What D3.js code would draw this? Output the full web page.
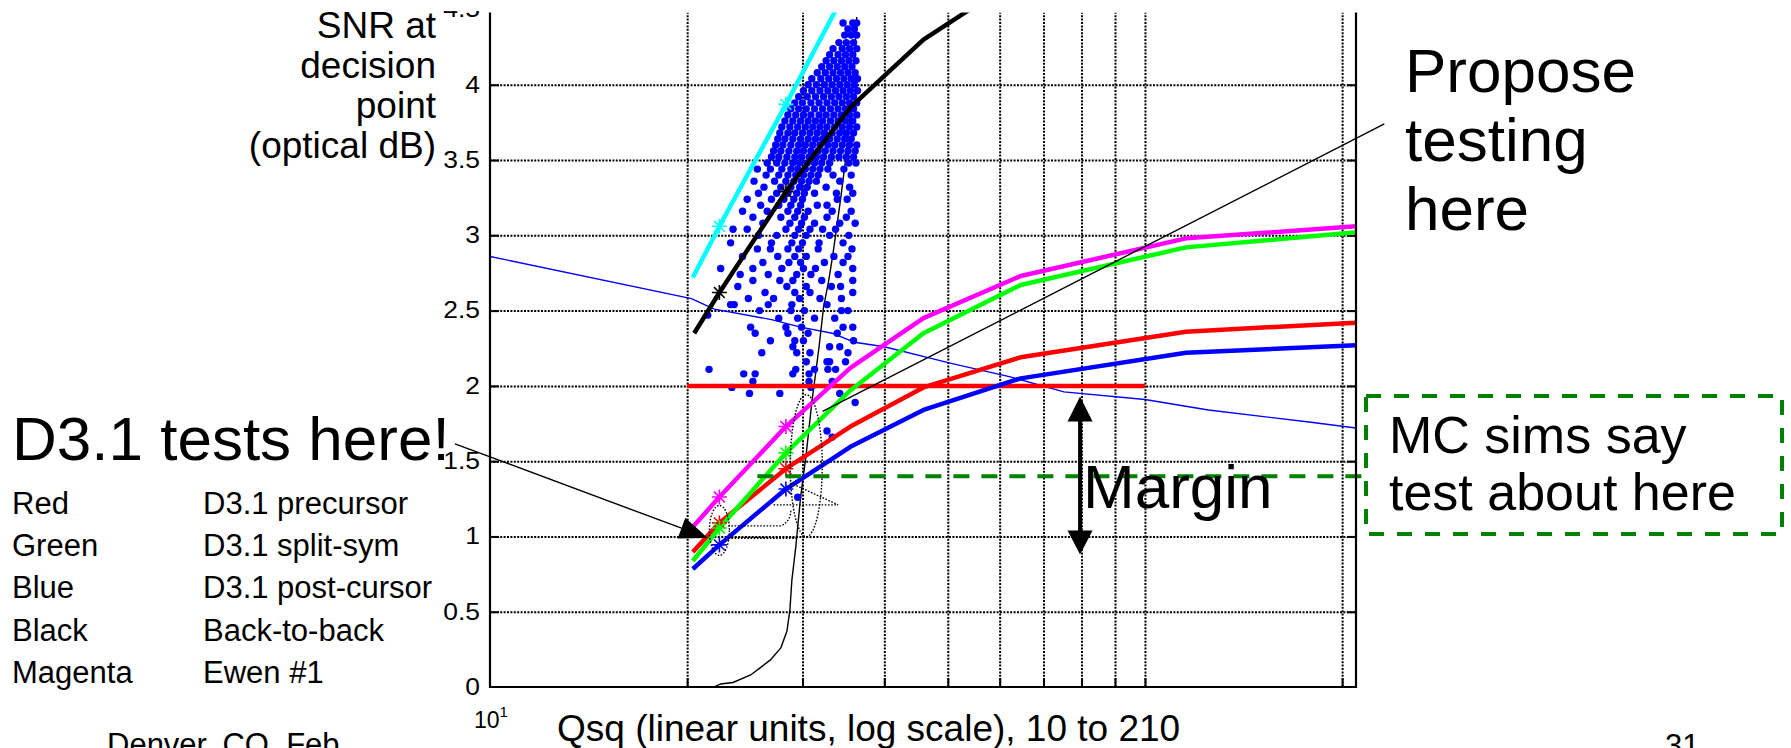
<!DOCTYPE html>
<html><head><meta charset="utf-8">
<script src="https://cdn.jsdelivr.net/npm/d3@7"></script>
<style>
html,body{margin:0;padding:0;background:#fff;}
svg{display:block;}
text{font-family:"Liberation Sans",Arial,sans-serif;fill:#000;}
</style></head><body>
<svg id="chart" width="1791" height="748"></svg>
<script>
// ---------------- data ----------------
const qGridTicks = [20,30,40,50,60,70,80,90,100,200];
const snrTicks = [0,0.5,1,1.5,2,2.5,3,3.5,4,4.5];
const snrTickLabels = ["0","0.5","1","1.5","2","2.5","3","3.5","4","4.5"];

const curveQ = [20.4,22.4,28.3,35.5,45.9,64.6,115.5,210];
const redSNR     = [0.897,1.09,1.45,1.73,1.99,2.19,2.36,2.42];
const greenSNR   = [0.837,1.056,1.555,1.97,2.35,2.67,2.92,3.02];
const blueSNR    = [0.784,0.944,1.315,1.595,1.84,2.05,2.22,2.27];
const magentaSNR = [1.063,1.262,1.73,2.12,2.45,2.73,2.98,3.06];

const cyanQ = [20.4,22.4,28.3,35.5];
const cyanSNR = [2.72,3.06,3.87,4.68];
const blackQ = [20.5,22.4,28.3,35.5,45.9,64.6];
const blackSNR = [2.35,2.62,3.29,3.85,4.30,4.72];
const starIdx = [1,2];

const thinBlueQ = [10,20.3,22,26.9,29.8,33.3,36,40,50.6,62.3,75.2,100,125,178,210];
const thinBlueSNR = [2.86,2.58,2.51,2.44,2.39,2.35,2.29,2.26,2.15,2.06,1.96,1.91,1.84,1.76,1.72];

const cdfQ = [20.0,22.0,22.5,23.5,25.0,25.9,26.8,27.8,28.4,28.7,28.9,29.3,29.8,30.4,31.0,31.8,32.3,32.9,33.4,34.3,34.9,35.3,35.9,36.3];
const cdfSNR = [0,0,0.02,0.03,0.08,0.13,0.18,0.26,0.37,0.51,0.71,0.93,1.26,1.55,1.89,2.26,2.52,2.70,2.88,3.24,3.50,3.70,4.05,4.45];

const limitLine = {q:[20,100], snr:2.0};
const mcLevel = {q0:25.6, snr:1.40};

// scatter cloud, each row: [SNR, Q values...]
const cloudRows = [
[4.41,34.6,35.8,36.3],[4.37,35.2,36.0],[4.33,34.8,35.6,36.3],[4.28,34.1,35.0,35.9],
[4.24,33.4,34.5,35.4,36.3],[4.20,33.0,34.0,34.9,35.8],[4.16,32.6,33.5,34.4,35.3,36.2],
[4.12,32.1,33.0,33.9,34.8,35.7],[4.08,31.6,32.5,33.4,34.3,35.2,36.1],
[4.04,31.0,32.0,32.9,33.8,34.7,35.6,36.4],[4.00,30.6,31.5,32.4,33.3,34.2,35.1,36.0],
[3.96,30.1,31.0,31.9,32.8,33.7,34.6,35.5,36.4],[3.92,29.6,30.5,31.4,32.3,33.2,34.1,35.0,35.9],
[3.88,29.2,30.0,30.9,31.8,32.7,33.6,34.5,35.4,36.3],[3.84,28.8,29.6,30.4,31.3,32.2,33.1,34.0,34.9,35.9],
[3.80,28.5,29.3,30.1,30.9,31.8,32.6,33.5,34.4,35.4,36.3],[3.76,28.2,29.0,29.8,30.6,31.4,32.2,33.1,34.0,34.9,35.8],
[3.72,27.9,28.7,29.5,30.3,31.1,31.9,32.7,33.6,34.5,35.4,36.3],[3.68,27.7,28.5,29.2,30.0,30.8,31.6,32.4,33.3,34.2,35.0,35.9],
[3.64,27.5,28.2,29.0,29.8,30.6,31.4,32.2,33.0,33.9,34.8,35.6],[3.60,27.3,28.0,28.8,29.6,30.3,31.1,31.9,32.8,33.6,34.5,35.4,36.3],
[3.56,27.1,27.8,28.6,29.4,30.1,30.9,31.7,32.5,33.4,34.3,35.2,36.1],[3.52,26.9,27.6,28.4,29.2,29.9,30.7,31.5,32.3,33.2,34.1,35.0,35.9],
[3.48,26.5,27.4,28.2,29.0,29.7,30.5,31.3,32.1,33.0,35.3,36.2],[3.44,25.6,26.8,27.9,28.8,29.5,30.3,31.1,31.9,32.8,34.7],
[3.40,26.4,27.6,28.5,29.3,30.1,30.9,31.7,33.4,35.6],[3.36,25.3,27.2,28.3,29.1,29.9,30.7,31.5,34.2],
[3.32,26.2,27.8,28.8,29.7,30.5,32.6,35.4],[3.28,25.7,27.4,28.5,29.4,30.2,31.3,33.8,35.8],
[3.24,24.7,26.9,28.1,29.1,30.0,33.9,35.1],[3.20,25.9,27.6,28.8,29.8,31.6,32.7],
[3.16,24.3,26.5,28.5,29.5,30.6,33.3,35.6],[3.12,25.2,27.8,29.2,30.2,32.7,35.0],
[3.08,26.1,28.7,29.9,31.3,34.2,36.1],[3.04,23.5,24.7,28.3,29.6,30.8,32.2,33.7],
[3.00,25.7,27.4,29.2,30.4,33.0,35.3],[2.95,23.3,26.9,28.9,30.0,31.8,34.6],
[2.91,25.6,26.8,28.5,29.6,31.7,35.7],[2.86,24.3,27.5,29.2,30.4,33.5,35.2],
[2.82,26.1,28.6,29.8,32.4,34.6],[2.78,22.5,25.2,27.9,30.1,31.4,35.8],
[2.74,24.1,26.6,29.4,30.9,34.0],[2.70,25.2,27.7,29.0,32.1,35.8],
[2.66,23.9,28.4,30.4,33.2,34.3],[2.62,26.3,29.2,30.8,35.8],
[2.58,24.8,27.1,29.7,31.9,34.4],[2.54,23.3,23.6,26.6,28.9,32.7],
[2.50,25.8,28.8,30.2,34.4,35.2],[2.47,21.5],[2.45,27.6,29.5,31.3,33.6],
[2.39,25.0,28.3,29.9,34.6,35.8],[2.35,25.4,28.5,30.6,33.9],
[2.30,26.8,29.2,30.1,35.9],[2.26,29.0,33.0,34.2],[2.22,26.0,29.4,30.8,35.2],
[2.16,30.4,32.7,33.0,34.9],[2.11,21.6,29.3,31.3,32.8,33.7],[2.08,24.4,25.4,29.0,30.7],
[2.03,25.2,30.7,33.3],[1.99,23.4,30.9],[1.95,24.9,27.7,34.2],[1.89,36.1],
[1.70,32.7],[1.66,33.3],[1.26,29.5]
];

// ---------------- chart ----------------
const svg = d3.select("#chart");
const x = d3.scaleLog().domain([10,210]).range([490,1356]);
const y = d3.scaleLinear().domain([0,4.5]).range([687,9.5]);
const X0 = 490, X1 = 1356, Y0 = 687, YT = 12.5;

svg.append("defs").append("clipPath").attr("id","plotclip")
  .append("rect").attr("x",X0).attr("y",YT).attr("width",X1-X0).attr("height",Y0-YT);

// gridlines
const grid = svg.append("g").attr("clip-path","url(#plotclip)");
grid.append("g").attr("transform",`translate(${X0},0)`)
  .call(d3.axisLeft(y).tickValues(snrTicks.slice(1)).tickSize(-(X1-X0)).tickFormat(""))
  .call(g=>g.select(".domain").remove())
  .selectAll("line").attr("stroke","#000").attr("stroke-width",2).attr("stroke-dasharray","2,1.4");
grid.append("g").attr("transform",`translate(0,${Y0})`)
  .call(d3.axisBottom(x).tickValues(qGridTicks).tickSize(-(Y0-YT)).tickFormat(""))
  .call(g=>g.select(".domain").remove())
  .selectAll("line").attr("stroke","#000").attr("stroke-width",2).attr("stroke-dasharray","2,1.4");

// inward solid ticks
const ticks = svg.append("g").attr("clip-path","url(#plotclip)");
ticks.append("g").attr("transform",`translate(${X0},0)`)
  .call(d3.axisLeft(y).tickValues(snrTicks).tickSize(-9).tickFormat(""))
  .call(g=>g.select(".domain").remove()).selectAll("line").attr("stroke","#000").attr("stroke-width",2);
ticks.append("g").attr("transform",`translate(${X1},0)`)
  .call(d3.axisRight(y).tickValues(snrTicks).tickSize(-9).tickFormat(""))
  .call(g=>g.select(".domain").remove()).selectAll("line").attr("stroke","#000").attr("stroke-width",2);
ticks.append("g").attr("transform",`translate(0,${Y0})`)
  .call(d3.axisBottom(x).tickValues(qGridTicks).tickSize(-9).tickFormat(""))
  .call(g=>g.select(".domain").remove()).selectAll("line").attr("stroke","#000").attr("stroke-width",2);

// y tick labels
const yLab = svg.append("g").attr("transform",`translate(${X0},0)`)
  .call(d3.axisLeft(y).tickValues(snrTicks).tickFormat((d,i)=>snrTickLabels[i]).tickSize(0).tickPadding(8.7));
yLab.select(".domain").remove();
yLab.selectAll("text").attr("font-family","'Liberation Serif','Times New Roman',serif")
  .attr("font-size",23).attr("fill","#000").attr("transform","scale(1.15,1)");

// x tick label 10^1
const xl = svg.append("text").attr("x",x(10)-16).attr("y",728)
  .attr("font-family","'Liberation Serif','Times New Roman',serif").attr("font-size",23);
xl.append("tspan").text("10");
xl.append("tspan").attr("font-size",15).attr("dy",-11).text("1");

// white cover at the top (chart cut off)
svg.append("rect").attr("x",440).attr("y",0).attr("width",940).attr("height",11).attr("fill","#fff");

const line = d3.line().x(d=>x(d[0])).y(d=>y(d[1]));
const pairs = (qs,ss)=>qs.map((q,i)=>[q,ss[i]]);
const plot = svg.append("g").attr("clip-path","url(#plotclip)");

// thin lines
plot.append("path").datum(pairs(thinBlueQ,thinBlueSNR)).attr("d",line)
  .attr("fill","none").attr("stroke","#0000ff").attr("stroke-width",1.4);
plot.append("path").datum(pairs(cdfQ,cdfSNR)).attr("d",line)
  .attr("fill","none").attr("stroke","#000").attr("stroke-width",1.4);

// scatter cloud
const cloud = [];
cloudRows.forEach(r=>{ for(let i=1;i<r.length;i++) cloud.push([r[i],r[0]]); });
plot.append("g").selectAll("circle").data(cloud).join("circle")
  .attr("cx",d=>x(d[0])).attr("cy",d=>y(d[1])).attr("r",3.7).attr("fill","#0000ff");

// red limit line
plot.append("path").datum(limitLine.q.map(q=>[q,limitLine.snr])).attr("d",line)
  .attr("fill","none").attr("stroke","#ff0000").attr("stroke-width",4.5);

// thick series
const series = [
  {q:curveQ,s:blueSNR,c:"#0000ff"},
  {q:curveQ,s:redSNR,c:"#ff0000"},
  {q:curveQ,s:greenSNR,c:"#00ff00"},
  {q:curveQ,s:magentaSNR,c:"#ff00ff"},
  {q:blackQ,s:blackSNR,c:"#000000"},
  {q:cyanQ,s:cyanSNR,c:"#00ffff"}
];
series.forEach(sr=>{
  plot.append("path").datum(pairs(sr.q,sr.s)).attr("d",line)
    .attr("fill","none").attr("stroke",sr.c).attr("stroke-width",4.5).attr("stroke-linejoin","round");
});
// star markers
const starPath = (cx,cy,r)=>{
  const d=r*0.72;
  return `M${cx-r},${cy}H${cx+r}M${cx},${cy-r}V${cy+r}M${cx-d},${cy-d}L${cx+d},${cy+d}M${cx-d},${cy+d}L${cx+d},${cy-d}`;
};
series.forEach(sr=>{
  starIdx.forEach(i=>{
    plot.append("path").attr("d",starPath(x(sr.q[i]),y(sr.s[i]),7.5))
      .attr("stroke",sr.c).attr("stroke-width",1.6).attr("fill","none");
  });
});

// dotted callout shapes
const dot = {stroke:"#000","stroke-width":1.4,"stroke-dasharray":"1.6,1.6",fill:"none"};
function styl(sel,o){Object.entries(o).forEach(([k,v])=>sel.attr(k,v));return sel;}
styl(plot.append("ellipse").attr("cx",x(22.4)).attr("cy",y(1.04)).attr("rx",10).attr("ry",25),dot);
styl(plot.append("ellipse").attr("cx",x(30.4)).attr("cy",y(1.47)).attr("rx",16).attr("ry",71),dot);
styl(plot.append("path").attr("d",
  `M${x(23.1)},${y(1.07)}H${x(27.8)}Q${x(28.8)},${y(1.10)} ${x(28.8)},${y(1.18)}`),dot);
styl(plot.append("path").attr("d",
  `M${x(27.1)},${y(1.21)}H${x(34.0)}L${x(28.6)},${y(1.36)}`),dot);
styl(plot.append("path").attr("d",`M${x(23.1)},${y(0.99)}H${x(29.6)}`),dot).attr("stroke-width",2.2);

// "propose" pointer line
svg.append("line").attr("x1",x(32.2)).attr("y1",y(1.83)).attr("x2",x(232)).attr("y2",y(3.74))
  .attr("stroke","#000").attr("stroke-width",1.4);

// MC sims dashed level
const boxL=1366, boxT=396, boxR=1782, boxB=534;
svg.append("line").attr("x1",x(mcLevel.q0)).attr("x2",boxL).attr("y1",y(mcLevel.snr)).attr("y2",y(mcLevel.snr))
  .attr("stroke","#008000").attr("stroke-width",4).attr("stroke-dasharray","16,12");
svg.append("rect").attr("x",boxL).attr("y",boxT).attr("width",boxR-boxL).attr("height",boxB-boxT)
  .attr("fill","none").attr("stroke","#008000").attr("stroke-width",4).attr("stroke-dasharray","15,13");

// margin double arrow
const mq=79.6, ax=x(mq), aTop=y(1.93), aBot=y(0.88);
svg.append("line").attr("x1",ax).attr("x2",ax).attr("y1",aTop+20).attr("y2",aBot-20).attr("stroke","#000").attr("stroke-width",4);
svg.append("path").attr("d",`M${ax},${aTop}L${ax-12.5},${aTop+25}L${ax+12.5},${aTop+25}Z`).attr("fill","#000");
svg.append("path").attr("d",`M${ax},${aBot}L${ax-12.5},${aBot-24}L${ax+12.5},${aBot-24}Z`).attr("fill","#000");

// D3.1 arrow
{
  const sx=x(8.84), sy=y(1.615), tx=x(21.5), ty=y(0.99);
  const ang=Math.atan2(ty-sy,tx-sx), L=28, Wd=11;
  const bx=tx-L*Math.cos(ang), by=ty-L*Math.sin(ang);
  svg.append("line").attr("x1",sx).attr("y1",sy).attr("x2",bx).attr("y2",by).attr("stroke","#000").attr("stroke-width",1.4);
  svg.append("path").attr("d",`M${tx},${ty}L${bx+Wd*Math.sin(ang)},${by-Wd*Math.cos(ang)}L${bx-Wd*Math.sin(ang)},${by+Wd*Math.cos(ang)}Z`).attr("fill","#000");
}

// axis frame
svg.append("line").attr("x1",X0).attr("x2",X0).attr("y1",YT).attr("y2",Y0+1).attr("stroke","#000").attr("stroke-width",2.2);
svg.append("line").attr("x1",X1).attr("x2",X1).attr("y1",YT).attr("y2",Y0+1).attr("stroke","#000").attr("stroke-width",2.2);
svg.append("line").attr("x1",X0-1).attr("x2",X1+1).attr("y1",Y0).attr("y2",Y0).attr("stroke","#000").attr("stroke-width",2.2);

// texts
const T = (t,xx,yy,fs,anchor,fill)=>svg.append("text").attr("x",xx).attr("y",yy).attr("font-size",fs)
  .attr("text-anchor",anchor||"start").attr("fill",fill||"#000").text(t);
["SNR at","decision","point","(optical dB)"].forEach((t,i)=>T(t,436,38+40*i,37,"end"));
T("Qsq (linear units, log scale), 10 to 210",557,741,37);
T("D3.1 tests here!",12,460,62);
const legNames=["Red","Green","Blue","Black","Magenta"];
const legDesc=["D3.1 precursor","D3.1 split-sym","D3.1 post-cursor","Back-to-back","Ewen #1"];
const legY=[514,556,598,641,683];
legNames.forEach((t,i)=>{T(t,12,legY[i],31);T(legDesc[i],203,legY[i],31);});
["Propose","testing","here"].forEach((t,i)=>T(t,1405,[92,161,230][i],62));
T("Margin",1083,508,62);
T("MC sims say",1389,453,52,"start","#008000");
T("test about here",1389,510,52,"start","#008000");
T("Denver, CO, Feb",107,755,31);
T("31",1665,756,31);
</script>
</body></html>
